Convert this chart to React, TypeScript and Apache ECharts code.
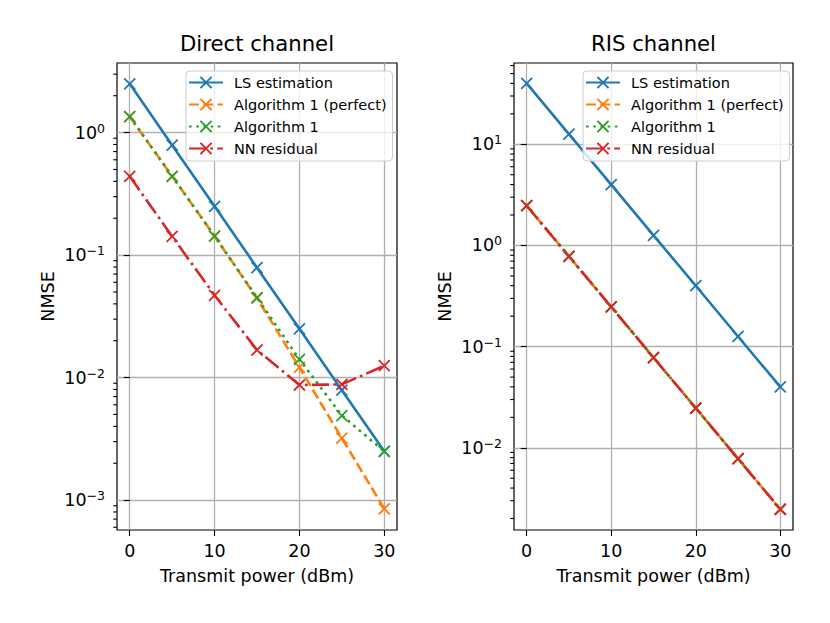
import React, { useEffect, useRef } from "react";
import * as echarts from "echarts";

const powerDbm = [0, 5, 10, 15, 20, 25, 30];
const xTicks = [0, 10, 20, 30];

const directLs = [2.5, 0.79, 0.25, 0.079, 0.025, 0.0079, 0.0025];
const directAlgPerfect = [1.35, 0.44, 0.143, 0.0445, 0.0121, 0.0032, 0.00085];
const directAlg = [1.35, 0.44, 0.143, 0.045, 0.0141, 0.0049, 0.0025];
const directNn = [0.44, 0.142, 0.047, 0.0168, 0.0087, 0.0088, 0.0125];

const risLs = [40, 12.6, 4.0, 1.26, 0.4, 0.126, 0.04];
const risAlgPerfect = [2.47, 0.78, 0.247, 0.078, 0.0247, 0.0078, 0.00247];
const risAlg = [2.47, 0.78, 0.247, 0.078, 0.0247, 0.0078, 0.00247];
const risNn = [2.47, 0.78, 0.247, 0.078, 0.0247, 0.0078, 0.00247];

const seriesNames = ["LS estimation", "Algorithm 1 (perfect)", "Algorithm 1", "NN residual"];
const titles = ["Direct channel", "RIS channel"];

const directMajor = [1e-3, 1e-2, 1e-1, 1];
const risMajor = [1e-2, 1e-1, 1, 10];
const directRange = [5.7e-4, 3.7];
const risRange = [1.54e-3, 63.6];
const xRange = [-1.5, 31.5];

const COLORS = ["#1f77b4", "#ff7f0e", "#2ca02c", "#d62728"];
const LW = 2.6;
const DASHES: any[] = ["solid", [10, 4.3], [2.7, 4.5], [17, 4.3, 2.7, 4.3]];
const FONT = "DejaVu Sans";
const XSYM = "path://M0,0L10,10M10,0L0,10";

function minorTicks(lo: number, hi: number): number[] {
  const out: number[] = [];
  for (let e = Math.floor(Math.log10(lo)); e <= Math.ceil(Math.log10(hi)); e++) {
    for (let k = 2; k <= 9; k++) {
      const v = k * Math.pow(10, e);
      if (v >= lo && v <= hi) out.push(v);
    }
  }
  return out;
}

function supLabel(v: number): string {
  const e = Math.round(Math.log10(v));
  const s = e < 0 ? "\u2212" + -e : String(e);
  return "{b|10}{s|" + s + "}";
}

export default function App() {
  const ref = useRef<HTMLDivElement>(null);
  useEffect(() => {
    document.body.style.margin = "0";
    if (!ref.current) return;
    const chart = echarts.init(ref.current, undefined, { renderer: "svg" });

    const grids = [
      { left: 117, top: 63, width: 280, height: 467 },
      { left: 514, top: 63, width: 279, height: 467 },
    ];
    const ranges = [directRange, risRange];
    const majors = [directMajor, risMajor];
    const data = [
      [directLs, directAlgPerfect, directAlg, directNn],
      [risLs, risAlgPerfect, risAlg, risNn],
    ];

    const xAxis: any[] = [];
    const yAxis: any[] = [];
    const series: any[] = [];
    const legend: any[] = [];
    const title: any[] = [];

    grids.forEach((g, gi) => {
      xAxis.push({
        type: "value",
        gridIndex: gi,
        min: xRange[0],
        max: xRange[1],
        name: "Transmit power (dBm)",
        nameLocation: "middle",
        nameGap: 37,
        nameTextStyle: { fontSize: 17.5, fontFamily: FONT, color: "#000" },
        axisLine: { show: false },
        axisTick: { show: true, customValues: xTicks, length: 6, lineStyle: { color: "#000", width: 1.1 } },
        axisLabel: { customValues: xTicks, fontSize: 17.5, fontFamily: FONT, color: "#000", margin: 12 },
        splitLine: { show: true, lineStyle: { color: "#b0b0b0", width: 1.3 } },
      });
      const [lo, hi] = ranges[gi];
      yAxis.push({
        type: "log",
        gridIndex: gi,
        position: "left",
        min: lo,
        max: hi,
        name: "NMSE",
        nameLocation: "middle",
        nameGap: 60,
        nameTextStyle: { fontSize: 17.5, fontFamily: FONT, color: "#000" },
        axisLine: { show: false },
        axisTick: { show: true, customValues: majors[gi], length: 6, lineStyle: { color: "#000", width: 1.1 } },
        axisLabel: {
          customValues: majors[gi],
          formatter: supLabel,
          margin: 12,
          color: "#000",
          rich: {
            b: { fontSize: 17.5, fontFamily: FONT, color: "#000", lineHeight: 22, verticalAlign: "middle" },
            s: { fontSize: 12.5, fontFamily: FONT, color: "#000", lineHeight: 22, verticalAlign: "top" },
          },
        },
        splitLine: { show: true, lineStyle: { color: "#b0b0b0", width: 1.3 } },
      });
      data[gi].forEach((vals, si) => {
        series.push({
          type: "line",
          name: seriesNames[si],
          xAxisIndex: gi,
          yAxisIndex: gi,
          data: powerDbm.map((x, i) => [x, vals[i]]),
          symbol: XSYM,
          symbolSize: 11,
          showAllSymbol: true,
          itemStyle: { color: COLORS[si], borderColor: COLORS[si], borderWidth: 1.8 },
          lineStyle: { color: COLORS[si], width: LW, type: DASHES[si] },
          emphasis: { disabled: true },
        });
      });
      // minor log ticks on the left spine
      series.push({
        type: "custom",
        name: "minorTicks" + gi,
        xAxisIndex: gi,
        yAxisIndex: gi,
        silent: true,
        clip: false,
        z: 5,
        data: minorTicks(lo, hi).map((v) => [xRange[0], v]),
        renderItem: (params: any, api: any) => {
          const p = api.coord([api.value(0), api.value(1)]);
          return {
            type: "line",
            shape: { x1: p[0] - 3.8, y1: p[1], x2: p[0], y2: p[1] },
            style: { stroke: "#000", lineWidth: 1.1 },
          };
        },
      });
      legend.push({
        orient: "vertical",
        left: gi === 0 ? 186 : 583,
        top: 71,
        data: seriesNames,
        itemWidth: 34,
        itemHeight: 14,
        itemGap: 7,
        padding: [4, 6, 5, 2],
        backgroundColor: "rgba(255,255,255,0.8)",
        borderColor: "#cccccc",
        borderWidth: 1,
        borderRadius: 4,
        selectedMode: false,
        textStyle: { fontSize: 14.5, fontFamily: FONT, color: "#000", lineHeight: 14, padding: [0, 0, 0, 6] },
      });
      title.push({
        text: titles[gi],
        left: g.left + g.width / 2,
        top: 33,
        padding: 0,
        textAlign: "center",
        textStyle: { fontSize: 21.2, fontWeight: "normal", fontFamily: FONT, color: "#000" },
      });
    });

    chart.setOption({
      animation: false,
      title,
      legend,
      grid: grids.map((g) => ({ ...g, show: true, borderColor: "#000", borderWidth: 1.2, backgroundColor: "transparent" })),
      xAxis,
      yAxis,
      series,
    });
    return () => chart.dispose();
  }, []);
  return <div ref={ref} style={{ width: 830, height: 623 }} />;
}
